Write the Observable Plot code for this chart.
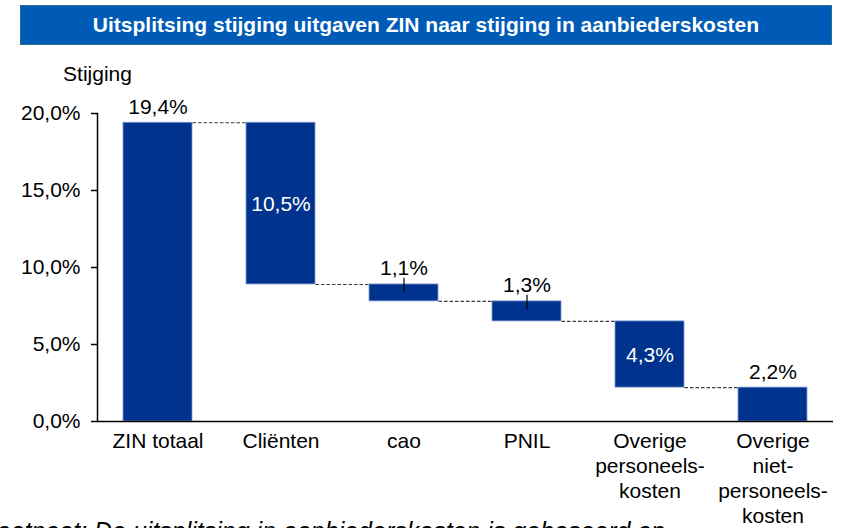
<!DOCTYPE html>
<html>
<head>
<meta charset="utf-8">
<script src="https://cdn.jsdelivr.net/npm/d3@7"></script>
<script src="https://cdn.jsdelivr.net/npm/@observablehq/plot@0.6"></script>
<style>
  html, body { margin: 0; padding: 0; background: #fff; }
  body { width: 841px; height: 528px; overflow: hidden; position: relative; font-family: "Liberation Sans", Arial, sans-serif; }
  #banner { position: absolute; left: 20px; top: 5px; width: 810px; height: 38px; background: #005bb7; border: 1px solid #2a6f93;
    color: #fff; font-weight: bold; font-size: 21px; line-height: 38px; text-align: center; }
  #chart { position: absolute; left: 0; top: 50px; }
  #note { position: absolute; left: -19px; top: 519px; font-style: italic; font-size: 25px; line-height: 25px; color: #000; white-space: nowrap; }
</style>
</head>
<body>
<div id="banner">Uitsplitsing stijging uitgaven ZIN naar stijging in aanbiederskosten</div>
<div id="chart"></div>
<div id="note">Voetnoot: De uitsplitsing in aanbiederskosten is gebaseerd op</div>
<script>
// Data
const categories = ["ZIN totaal", "Cliënten", "cao", "PNIL", "Overige personeelskosten", "Overige niet-personeelskosten"];
const categoryLabels = ["ZIN totaal", "Cliënten", "cao", "PNIL", "Overige\npersoneels-\nkosten", "Overige\nniet-\npersoneels-\nkosten"];
const values = [19.4, 10.5, 1.1, 1.3, 4.3, 2.2];
const labelInside = [false, true, false, false, true, false];
const leaderLine = [false, false, true, true, false, false];
const yTicks = [0, 5, 10, 15, 20];

// Build waterfall table
const rows = [];
let level = values[0];
categories.forEach((c, i) => {
  let top, bottom;
  if (i === 0) { top = values[0]; bottom = 0; }
  else { top = level; bottom = level - values[i]; level = bottom; }
  rows.push({cat: c, label: categoryLabels[i], value: values[i], top, bottom,
             text: values[i].toFixed(1).replace(".", ",") + "%", inside: labelInside[i], leader: leaderLine[i]});
});
const connectors = rows.slice(0, -1).map((r, i) => ({from: r.cat, to: rows[i + 1].cat, y: i === 0 ? r.top : r.bottom}));

const W = 841, H = 478;
const FS = 21;
const fmt = d => d.toFixed(1).replace(".", ",") + "%";
const barColor = "#00338d";

const chart = Plot.plot({
  width: W,
  height: H,
  marginTop: 63,
  marginBottom: 107,
  marginLeft: 97,
  marginRight: 8,
  style: {fontFamily: "'Liberation Sans', Arial, sans-serif", fontSize: FS + "px", color: "#000", background: "#fff"},
  x: {domain: categories, paddingInner: 0.44, paddingOuter: 0.21, axis: null},
  y: {domain: [0, 20], axis: null},
  marks: [
    Plot.axisY({ticks: yTicks, tickFormat: fmt, tickSize: 6, tickPadding: 11, strokeWidth: 1.5, fontSize: FS, label: null, stroke: "#000"}),
    Plot.frame({anchor: "left", stroke: "#000", strokeWidth: 1.5}),
    Plot.barY(rows, {x: "cat", y1: "bottom", y2: "top", fill: barColor, stroke: "#7d9ad2", strokeWidth: 0.8}),
    Plot.link(connectors, {
      x1: d => d.from, x2: d => d.to, y1: "y", y2: "y",
      stroke: "#3a3a3a", strokeWidth: 1.1, strokeDasharray: "3.5,2",
      render: (index, scales, values, dims, ctx, next) => {
        const bw = scales.x.bandwidth();
        const g = next(index, scales, values, dims, ctx);
        d3.select(g).selectAll("path").each(function(i) {
          const x1 = values.x1[i] + bw / 2, x2 = values.x2[i] - bw / 2, y = values.y1[i];
          d3.select(this).attr("d", `M${x1},${y}L${x2},${y}`);
        });
        return g;
      }
    }),
    Plot.ruleY([0], {stroke: "#000", strokeWidth: 1.5}),
    Plot.text(rows.filter(d => !d.inside), {x: "cat", y: "top", text: "text", dy: -9, lineAnchor: "bottom", fill: "#000", fontSize: FS}),
    Plot.text(rows.filter(d => d.inside), {x: "cat", y: d => (d.top + d.bottom) / 2, text: "text", dy: 1, fill: "#fff", fontSize: FS}),
    Plot.ruleX(rows.filter(d => d.leader), {x: "cat", y1: d => d.top + 0.4, y2: d => d.top - 0.55, stroke: "#000", strokeWidth: 1.2}),
    Plot.text(rows, {x: "cat", text: "label", frameAnchor: "bottom", lineAnchor: "top", dy: 9, lineHeight: 25 / FS, fill: "#000", fontSize: FS}),
    Plot.text(["Stijging"], {frameAnchor: "top-left", text: d => d, dy: -33, lineAnchor: "bottom", textAnchor: "middle", fill: "#000", fontSize: FS})
  ]
});
document.getElementById("chart").appendChild(chart);
</script>
</body>
</html>
